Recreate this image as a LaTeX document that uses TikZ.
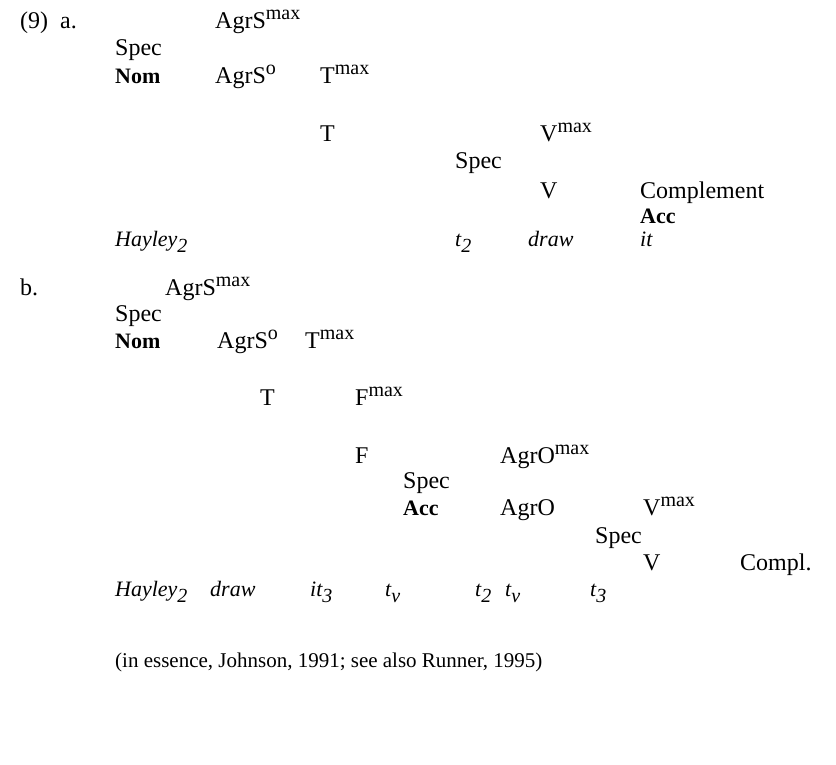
\documentclass[tikz,border=0pt]{standalone}
\usepackage{fontspec}
\setmainfont{Liberation Serif}
\newcommand{\mysup}[1]{\raisebox{9pt}{\fontsize{20}{20}\selectfont #1}}
\newcommand{\mysub}[1]{\raisebox{-6pt}{\fontsize{20}{20}\selectfont\itshape #1}}
\begin{document}
\begin{tikzpicture}[x=1pt,y=-1pt,
  lab/.style={anchor=base west,inner sep=0pt,font=\fontsize{24}{28}\selectfont},
  bl/.style={lab,font=\fontsize{22}{26}\selectfont\bfseries},
  it/.style={lab,font=\fontsize{22}{26}\selectfont\itshape}]
\useasboundingbox (0,0) rectangle (836,764);
% part a
\node[lab] (nine) at (20,28) {(9)\ \ a.};
\node[lab] (a1) at (215,28) {AgrS\mysup{max}};
\node[lab] (a2) at (115,55) {Spec};
\node[bl] (a3) at (115,83) {Nom};
\node[lab] (a4) at (215,83) {AgrS\mysup{o}};
\node[lab] (a5) at (320,83) {T\mysup{max}};
\node[lab] (a6) at (320,141) {T};
\node[lab] (a7) at (540,141) {V\mysup{max}};
\node[lab] (a8) at (455,168) {Spec};
\node[lab] (a9) at (540,198) {V};
\node[lab] (a10) at (640,198) {Complement};
\node[bl] (a11) at (640,223) {Acc};
\node[it] (a12) at (115,246) {Hayley\mysub{2}};
\node[it] (a13) at (455,246) {t\mysub{2}};
\node[it] (a14) at (528,246) {draw};
\node[it] (a15) at (640,246) {it};
% part b
\node[lab] (bee) at (20,295) {b.};
\node[lab] (b1) at (165,295) {AgrS\mysup{max}};
\node[lab] (b2) at (115,321) {Spec};
\node[bl] (b3) at (115,348) {Nom};
\node[lab] (b4) at (217,348) {AgrS\mysup{o}};
\node[lab] (b5) at (305,348) {T\mysup{max}};
\node[lab] (b6) at (260,405) {T};
\node[lab] (b7) at (355,405) {F\mysup{max}};
\node[lab] (b8) at (355,463) {F};
\node[lab] (b9) at (500,463) {AgrO\mysup{max}};
\node[lab] (b10) at (403,488) {Spec};
\node[bl] (b11) at (403,515) {Acc};
\node[lab] (b12) at (500,515) {AgrO};
\node[lab] (b13) at (643,515) {V\mysup{max}};
\node[lab] (b14) at (595,543) {Spec};
\node[lab] (b15) at (643,570) {V};
\node[lab] (b16) at (740,570) {Compl.};
\node[it] (b17) at (115,596) {Hayley\mysub{2}};
\node[it] (b18) at (210,596) {draw};
\node[it] (b19) at (310,596) {it\mysub{3}};
\node[it] (b20) at (385,596) {t\mysub{v}};
\node[it] (b21) at (475,596) {t\mysub{2}};
\node[it] (b22) at (505,596) {t\mysub{v}};
\node[it] (b23) at (590,596) {t\mysub{3}};
\node[lab,font=\fontsize{21}{25}\selectfont] (cite) at (115,667) {(in essence, Johnson, 1991; see also Runner, 1995)};
\end{tikzpicture}
\end{document}
